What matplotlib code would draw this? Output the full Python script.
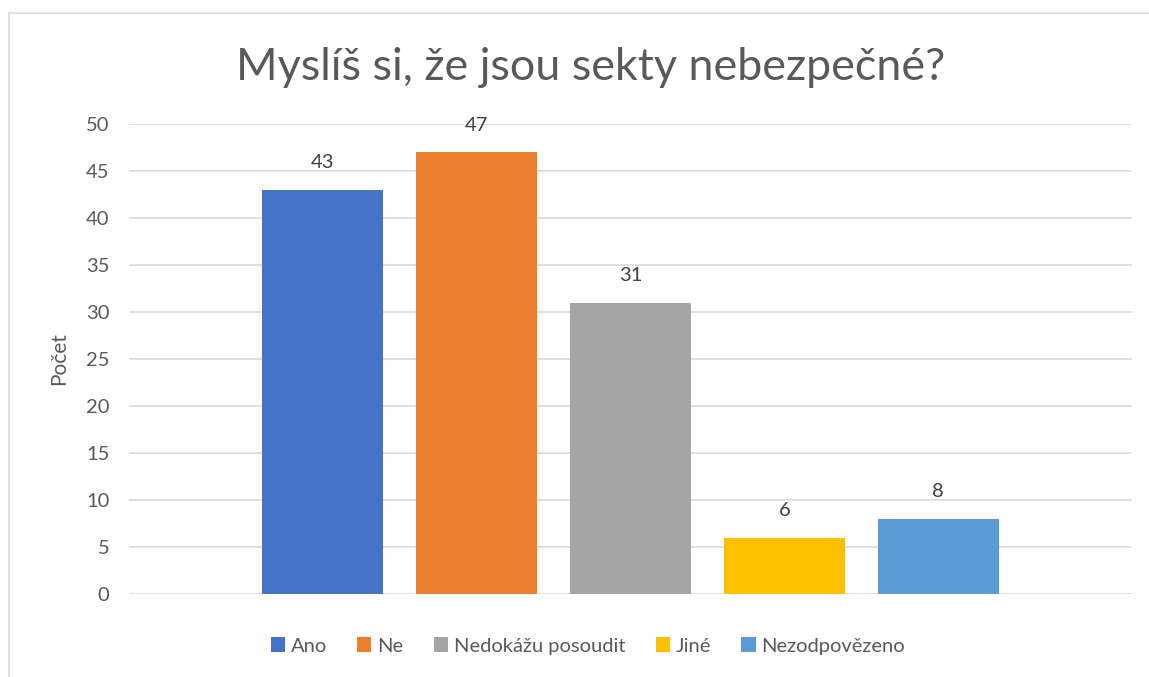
import matplotlib.pyplot as plt
from matplotlib.patches import Rectangle

categories = ['Ano', 'Ne', 'Nedokážu posoudit', 'Jiné', 'Nezodpovězeno']
values = [43, 47, 31, 6, 8]
colors = ['#4472c4', '#ed7d31', '#a5a5a5', '#ffc000', '#5b9bd5']
yticks = [0, 5, 10, 15, 20, 25, 30, 35, 40, 45, 50]

plt.rcParams['font.family'] = ['Lato', 'DejaVu Sans']
text_color = '#595959'

W, H = 1149, 677
fig = plt.figure(figsize=(W / 100, H / 100), dpi=100)

# light chart-area border (left and top visible)
fig.patches.append(Rectangle((8.5 / W, -0.1), 1.2, 1.1 - 12.5 / H,
                             transform=fig.transFigure, fill=False,
                             edgecolor='#d9d9d9', linewidth=1.2))

ax = fig.add_axes([129 / W, 1 - 594 / H, (1132 - 129) / W, (594 - 124) / H])

x = list(range(len(values)))
bars = ax.bar(x, values, width=0.786, color=colors, zorder=3)

for xi, v in zip(x, values):
    ax.annotate(str(v), (xi, v), xytext=(0, 19.5), textcoords='offset points',
                ha='center', va='center', fontsize=14.5, color='#404040')

ax.set_xlim(-1.26, 5.26)
ax.set_ylim(0, 50)
ax.set_yticks(yticks)
ax.set_xticks([])
ax.yaxis.grid(True, color='#d9d9d9', linewidth=1.2, zorder=0)
ax.tick_params(axis='y', length=0, labelsize=14.5, labelcolor=text_color, pad=14)
for s in ax.spines.values():
    s.set_visible(False)

ax.set_ylabel('Počet', fontsize=15, color=text_color, labelpad=12)

fig.text(591 / W, 1 - 67 / H, 'Myslíš si, že jsou sekty nebezpečné?',
         ha='center', va='center', fontsize=32.3, color=text_color)

fig.legend(bars, categories, loc='center', bbox_to_anchor=(588 / W, 1 - 646 / H),
           ncol=5, frameon=False, fontsize=14.5, labelcolor=text_color,
           handlelength=0.7, handleheight=0.7, handletextpad=0.3, columnspacing=1.5)

fig.savefig('out.png', dpi=100)
